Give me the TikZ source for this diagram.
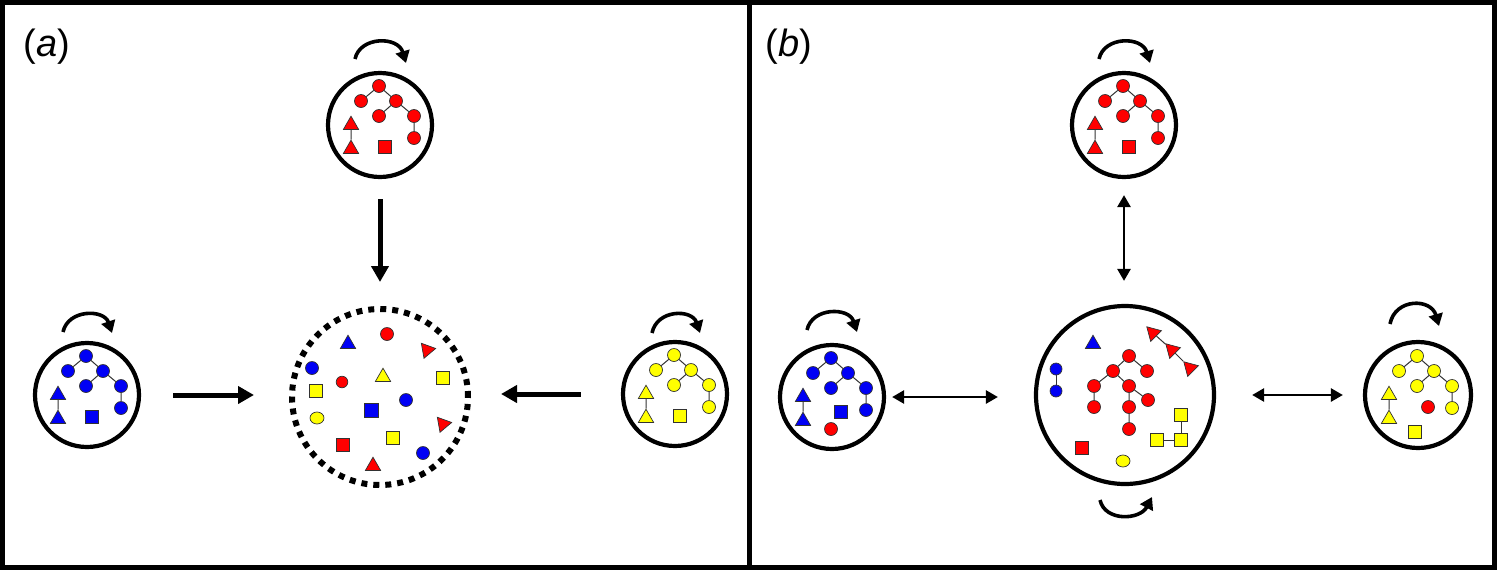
\documentclass[tikz,border=0pt]{standalone}
\usepackage{fontspec}
\newfontfamily\labfont{Liberation Sans}
\usetikzlibrary{shapes.geometric,arrows.meta}
\definecolor{cred}{RGB}{255,0,0}
\definecolor{cblue}{RGB}{0,0,245}
\definecolor{cyel}{RGB}{255,255,0}
\definecolor{edge}{RGB}{50,50,50}
\tikzset{
  mol/.style={circle,draw=edge,line width=0.35pt,inner sep=0pt,minimum size=6.5pt},
  tri/.style={regular polygon,regular polygon sides=3,draw=edge,line width=0.35pt,inner sep=0pt,minimum size=8.8pt},
  sqr/.style={rectangle,draw=edge,line width=0.35pt,inner sep=0pt,minimum size=6.7pt},
  ovl/.style={ellipse,draw=edge,line width=0.35pt,inner sep=0pt,minimum width=7pt,minimum height=6pt},
  bond/.style={draw=edge,line width=0.5pt},
  cell/.style={circle,draw=black,line width=2.1pt,inner sep=0pt,minimum size=#1},
  cell/.default=52pt,
  mixdash/.style={circle,draw=black,line width=3pt,dash pattern=on 3pt off 3pt,inner sep=0pt,minimum size=#1},
  bigarrow/.style={line width=2.5pt,-{Triangle[length=8pt,width=8.5pt]}},
  dblarrow/.style={line width=1.3pt,{Triangle[length=6pt,width=6.5pt]}-{Triangle[length=6pt,width=6.5pt]}},
  turn/.style={line width=1.8pt,-{Triangle[length=6pt,width=7pt]}},
  lbl/.style={font=\labfont\fontsize{19}{22}\selectfont,inner sep=0pt},
  frame/.style={line width=2.8pt}
}
% #1 prefix, #2 cx, #3 cy, #4 colour, #5 square dx (signed), #6 square dy (signed)
\newcommand{\cellmols}[6]{%
  \node[mol,fill=#4] (#1A) at (#2-1,#3-39) {};
  \node[mol,fill=#4] (#1B) at (#2-19,#3-24) {};
  \node[mol,fill=#4] (#1C) at (#2+16,#3-24) {};
  \node[mol,fill=#4] (#1D) at (#2-1,#3-9) {};
  \node[mol,fill=#4] (#1E) at (#2+34,#3-9) {};
  \node[mol,fill=#4] (#1F) at (#2+34,#3+13) {};
  \node[tri,fill=#4] (#1T) at (#2-29,#3) {};
  \node[tri,fill=#4] (#1U) at (#2-29,#3+24) {};
  \node[sqr,fill=#4] (#1S) at (#2#5,#3#6) {};
  \draw[bond] (#1A)--(#1B) (#1A)--(#1C) (#1C)--(#1D) (#1C)--(#1E) (#1E)--(#1F) (#1T)--(#1U);
}
\begin{document}
\begin{tikzpicture}[x=0.5pt,y=-0.5pt]
\useasboundingbox (0,0) rectangle (1500,574);
\draw[frame] (2.5,2.5) rectangle (749.5,567.5);
\draw[frame] (749.5,2.5) rectangle (1494.5,567.5);
\node[lbl] (la) at (47,47) {(\textit{a})};
\node[lbl] (lb) at (789,47) {(\textit{b})};

% ===== panel (a) =====
\node[cell] (atop) at (380,125) {};
\cellmols{at}{380}{125}{cred}{+5}{+22}
\node[cell] (aleft) at (87,395) {};
\cellmols{al}{87}{395}{cblue}{+5}{+22}
\node[cell] (aright) at (675,394) {};
\cellmols{ar}{675}{394}{cyel}{+5}{+22}
\node[mixdash=88pt] (amix) at (380,397) {};

\draw[turn] (355,59) .. controls (360,36) and (398,36) .. (406,63);
\draw[turn] (63,332) .. controls (68,309) and (104,309) .. (112,333);
\draw[turn] (652,333) .. controls (657,309) and (692,309) .. (700,333);

\draw[bigarrow,shorten <=10pt,shorten >=12pt] (atop.south) -- (amix.north);
\draw[bigarrow,shorten <=16pt,shorten >=17.5pt] (aleft.east) -- (amix.west |- aleft.east);
\draw[bigarrow,shorten <=20pt,shorten >=15pt] (aright.west) -- (amix.east |- aright.west);

% mixture contents
\node[tri,fill=cblue] (m1) at (348,344) {};
\node[mol,fill=cred] (m2) at (387,334) {};
\node[tri,fill=cred,shape border rotate=160] (m3) at (427,350) {};
\node[mol,fill=cblue] (m4) at (312,368) {};
\node[mol,fill=cred,minimum size=5.8pt] (m5) at (342,382) {};
\node[tri,fill=cyel] (m6) at (383,377) {};
\node[sqr,fill=cyel] (m7) at (443,378) {};
\node[sqr,fill=cyel] (m8) at (316,391) {};
\node[mol,fill=cblue] (m9) at (406,400) {};
\node[sqr,fill=cblue,minimum size=7pt] (m10) at (371,410) {};
\node[ovl,fill=cyel] (m11) at (317,418) {};
\node[tri,fill=cred,shape border rotate=160] (m12) at (443,424) {};
\node[sqr,fill=cyel] (m13) at (393,438) {};
\node[sqr,fill=cred] (m14) at (343,445) {};
\node[mol,fill=cblue] (m15) at (423,453) {};
\node[tri,fill=cred] (m16) at (373,466) {};

% ===== panel (b) =====
\node[cell] (btop) at (1124,125) {};
\cellmols{bt}{1124}{125}{cred}{+5}{+22}
\node[cell] (bleft) at (832,397) {};
\cellmols{bl}{832}{397}{cblue}{+9}{+15}
\node[mol,fill=cred] (blx) at (831,429) {};
\node[cell=53pt] (bright) at (1418,395) {};
\cellmols{br}{1418}{395}{cyel}{-3}{+37}
\node[mol,fill=cred] (brx) at (1428,407) {};
\node[cell=89pt] (bmix) at (1125,395) {};

\draw[turn] (1099,59) .. controls (1104,36) and (1142,36) .. (1150,63);
\draw[turn] (807,330) .. controls (812,307) and (849,307) .. (857,332);
\draw[turn] (1390,324) .. controls (1395,298) and (1431,298) .. (1439,326);
\draw[turn] (1100,500) .. controls (1105,522) and (1140,520) .. (1152,497);

\draw[dblarrow,shorten <=8pt,shorten >=11.5pt] (btop.south) -- (btop.south |- bmix.north);
\draw[dblarrow,shorten <=3pt,shorten >=18pt] (bleft.east) -- (bmix.west |- bleft.east);
\draw[dblarrow,shorten <=18pt,shorten >=10pt] (bmix.east) -- (bright.west |- bmix.east);

% big cell contents
\node[tri,fill=cblue] (c1) at (1093,344) {};
\node[mol,fill=cblue,minimum size=6pt] (c2) at (1056,369) {};
\node[mol,fill=cblue,minimum size=6pt] (c3) at (1056,391) {};
\draw[bond] (c2)--(c3);
\node[mol,fill=cred] (rA) at (1129,356) {};
\node[mol,fill=cred] (rB) at (1113,371) {};
\node[mol,fill=cred] (rC) at (1147,371) {};
\node[mol,fill=cred] (rD) at (1094,386) {};
\node[mol,fill=cred] (rE) at (1129,386) {};
\node[mol,fill=cred] (rF) at (1148,400) {};
\node[mol,fill=cred] (rG) at (1094,407) {};
\node[mol,fill=cred] (rH) at (1129,407) {};
\node[mol,fill=cred] (rI) at (1129,429) {};
\draw[bond] (rA)--(rB) (rA)--(rC) (rB)--(rD) (rB)--(rE) (rD)--(rG) (rE)--(rF) (rE)--(rH) (rH)--(rI);
\node[tri,fill=cred,shape border rotate=165] (t1) at (1153,333) {};
\node[tri,fill=cred,shape border rotate=165] (t2) at (1172,350) {};
\node[tri,fill=cred,shape border rotate=165] (t3) at (1190,368) {};
\draw[bond] (t1)--(t2) (t2)--(t3);
\node[sqr,fill=cyel] (y1) at (1181,415) {};
\node[sqr,fill=cyel] (y2) at (1181,440) {};
\node[sqr,fill=cyel] (y3) at (1157,440) {};
\draw[bond] (y1)--(y2) (y3)--(y2);
\node[sqr,fill=cred] (c4) at (1082,448) {};
\node[ovl,fill=cyel] (c5) at (1123,461) {};
\end{tikzpicture}
\end{document}
